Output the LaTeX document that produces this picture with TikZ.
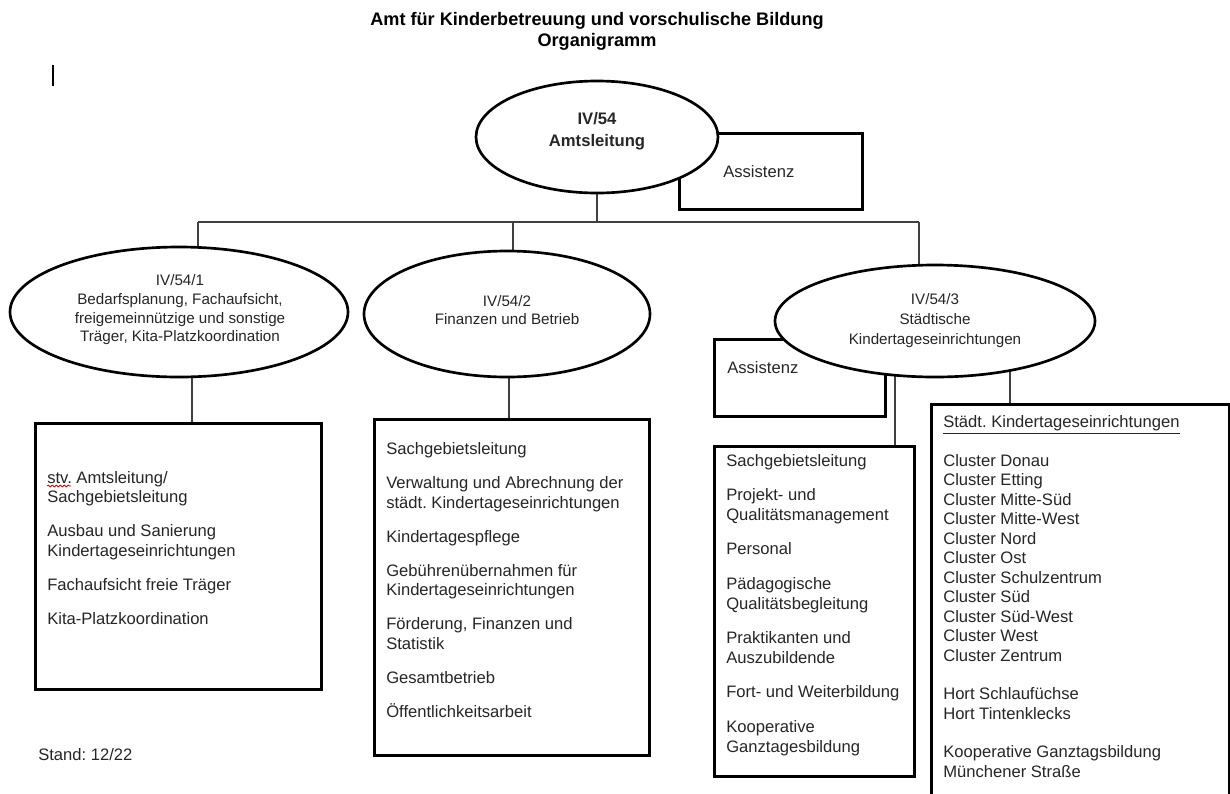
\documentclass[tikz,border=0pt]{standalone}
\usepackage{fontspec}
\setmainfont{Liberation Sans}
\usetikzlibrary{shapes.geometric,decorations.pathmorphing}
\pgfdeclarelayer{background}
\pgfsetlayers{background,main}
\frenchspacing
\tikzset{
  shapeline/.style={draw=black, line width=2pt, fill=white},
  orgoval/.style={shapeline, ellipse, inner sep=0pt},
  orgbox/.style={shapeline, rectangle, inner sep=0pt, anchor=north west},
  sz/.style 2 args={minimum width=#1*0.75pt, minimum height=#2*0.75pt},
  conn/.style={draw=black!75, line width=0.8pt},
  boxtext/.style={anchor=base west, align=left, inner sep=0pt, text=black!85,
    font=\fontsize{12.45pt}{14.6pt}\selectfont},
  ovaltext/.style={align=center, inner sep=0pt, text=black!85,
    font=\fontsize{11.4pt}{14pt}\selectfont},
}
\begin{document}
\frenchspacing
\begin{tikzpicture}[x=0.75pt,y=-0.75pt]
\useasboundingbox (0,0) rectangle (1230,793);
\clip (0,0) rectangle (1230,793);
% boxes
\node[orgbox, sz={183}{76}] (a0) at (678,132) {};
\node[orgbox, sz={171}{77}] (a3) at (713,338) {};
\node[orgbox, sz={286}{266}] (b1) at (34,422) {};
\node[orgbox, sz={275}{336}] (b2) at (373,418) {};
\node[orgbox, sz={200}{330}] (b3) at (713,445) {};
\node[orgbox, sz={298}{420}] (b4) at (930,403) {};
% ellipses
\node[orgoval, sz={242}{112}] (e0) at (597,137) {};
\node[orgoval, sz={338}{130}] (e1) at (179,312) {};
\node[orgoval, sz={286}{126}] (e2) at (507,314) {};
\node[orgoval, sz={320}{112}] (e3) at (935,321) {};
% title
\node[align=center, inner sep=0pt, font=\bfseries\fontsize{13.6pt}{15.6pt}\selectfont] (title) at (597,31)
  {Amt für Kinderbetreuung und vorschulische Bildung\\Organigramm};
% ellipse texts
\node[ovaltext, font=\bfseries\fontsize{12.5pt}{16.5pt}\selectfont] (t0) at (597,131) {IV/54\\Amtsleitung};
\node[ovaltext] (t1) at (180,310) {IV/54/1\\Bedarfsplanung, Fachaufsicht,\\freigemeinnützige und sonstige\\Träger, Kita-Platzkoordination};
\node[ovaltext] (t2) at (507,310) {IV/54/2\\Finanzen und Betrieb};
\node[ovaltext, font=\fontsize{11.4pt}{15pt}\selectfont] (t3) at (935,321) {IV/54/3\\Städtische\\Kindertageseinrichtungen};
% assistenz texts
\node[boxtext] (at0) at (723,177) {Assistenz};
\node[boxtext] (at3) at (727,373) {Assistenz};
% box texts (anchored at the baseline of their last line)
\node[boxtext] (x1) at (47,624) {stv. Amtsleitung/\\Sachgebietsleitung\\[10.9pt]Ausbau und Sanierung\\Kindertageseinrichtungen\\[10.9pt]Fachaufsicht freie Träger\\[10.9pt]Kita-Platzkoordination};
\node[boxtext] (x2) at (386,717) {Sachgebietsleitung\\[10.9pt]Verwaltung und Abrechnung der\\städt. Kindertageseinrichtungen\\[10.9pt]Kindertagespflege\\[10.9pt]Gebührenübernahmen für\\Kindertageseinrichtungen\\[10.9pt]Förderung, Finanzen und\\Statistik\\[10.9pt]Gesamtbetrieb\\[10.9pt]Öffentlichkeitsarbeit};
\node[boxtext] (x3) at (726,752) {Sachgebietsleitung\\[11.4pt]Projekt- und\\Qualitätsmanagement\\[11.4pt]Personal\\[11.4pt]Pädagogische\\Qualitätsbegleitung\\[11.4pt]Praktikanten und\\Auszubildende\\[11.4pt]Fort- und Weiterbildung\\[11.4pt]Kooperative\\Ganztagesbildung};
\node[boxtext] (x4) at (943,777) {\underline{Städt. Kindertageseinrichtungen}\\[14.3pt]Cluster Donau\\Cluster Etting\\Cluster Mitte-Süd\\Cluster Mitte-West\\Cluster Nord\\Cluster Ost\\Cluster Schulzentrum\\Cluster Süd\\Cluster Süd-West\\Cluster West\\Cluster Zentrum\\[14.3pt]Hort Schlaufüchse\\Hort Tintenklecks\\[14.3pt]Kooperative Ganztagsbildung\\Münchener Straße};
\node[boxtext] (stand) at (38,760) {Stand: 12/22};
% cursor mark and spell-check squiggle
\draw[line width=0.8pt] (53,65) -- (53,86);
\draw[red!85!black, line width=0.6pt, decorate, decoration={snake, amplitude=0.7pt, segment length=3pt}] (47,486) -- (71,486);
% connectors
\begin{pgfonlayer}{background}
\coordinate (busL) at (198,222);
\coordinate (busR) at (919,222);
\coordinate (d2) at (513,222);
\coordinate (c1) at (192,0);
\coordinate (c2) at (509,0);
\coordinate (c3) at (895,0);
\coordinate (c4) at (1010,0);
\draw[conn] (e0.center) -- (e0.center |- busL);
\draw[conn] (busL) -- (busR);
\draw[conn] (busL) -- (busL |- e1.center);
\draw[conn] (d2) -- (d2 |- e2.center);
\draw[conn] (busR) -- (busR |- e3.center);
\draw[conn] (e1.center -| c1) -- (b1.north -| c1);
\draw[conn] (e2.center -| c2) -- (b2.north -| c2);
\draw[conn] (e3.center -| c3) -- (b3.north -| c3);
\draw[conn] (e3.center -| c4) -- (b4.north -| c4);
\end{pgfonlayer}
\end{tikzpicture}
\end{document}
